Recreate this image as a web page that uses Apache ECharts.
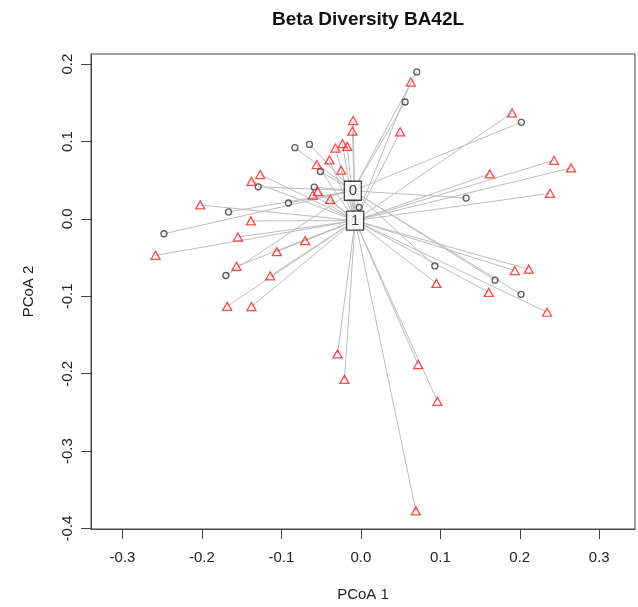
<!DOCTYPE html>
<html>
<head>
<meta charset="utf-8">
<script src="https://cdn.jsdelivr.net/npm/echarts@6/dist/echarts.min.js"></script>
<style>html,body{margin:0;padding:0;background:#fff}#c{width:638px;height:607px}</style>
</head>
<body>
<div id="c"></div>
<script>
// ---- data ----
const groupNames = ['0', '1'];
// group "0" points (PCoA1, PCoA2)
const group0 = [
  [0.0704, 0.1899], [0.0557, 0.1510], [0.2020, 0.1248], [0.1325, 0.0269],
  [-0.0021, 0.0150], [-0.0647, 0.0962], [-0.0830, 0.0920], [-0.0508, 0.0612],
  [-0.1292, 0.0414], [-0.0587, 0.0411], [-0.0911, 0.0205], [-0.1665, 0.0090],
  [-0.2478, -0.0192], [-0.1698, -0.0731], [0.0931, -0.0607], [0.1689, -0.0792],
  [0.2016, -0.0975]
];
// group "1" points
const group1 = [
  [-0.0097, 0.1270], [-0.0106, 0.1133], [-0.0231, 0.0971], [-0.0172, 0.0937],
  [-0.0319, 0.0915], [-0.0395, 0.0761], [-0.0553, 0.0702], [-0.0248, 0.0629],
  [-0.1267, 0.0573], [-0.1376, 0.0484], [-0.0604, 0.0308], [-0.0541, 0.0355],
  [-0.0386, 0.0253], [-0.2021, 0.0180], [-0.1384, -0.0026], [-0.1547, -0.0235],
  [-0.0701, -0.0282], [-0.2584, -0.0471], [-0.1057, -0.0423], [-0.1565, -0.0612],
  [-0.1141, -0.0735], [-0.1682, -0.1129], [-0.1376, -0.1133], [0.0629, 0.1767],
  [0.0494, 0.1125], [0.1903, 0.1369], [0.2431, 0.0757], [0.2645, 0.0658],
  [0.1623, 0.0581], [0.2381, 0.0330], [0.1937, -0.0667], [0.2113, -0.0650],
  [0.0951, -0.0834], [0.1610, -0.0949], [0.2343, -0.1206], [-0.0294, -0.1745],
  [-0.0206, -0.2074], [0.0721, -0.1882], [0.0964, -0.2357], [0.0692, -0.3772]
];
// group centroids (label positions)
const centroids = [[-0.0101, 0.0363], [-0.0072, -0.0022]];
const xTicks = [-0.3, -0.2, -0.1, 0.0, 0.1, 0.2, 0.3];
const xTickLabels = ['-0.3', '-0.2', '-0.1', '0.0', '0.1', '0.2', '0.3'];
const yTicks = [-0.4, -0.3, -0.2, -0.1, 0.0, 0.1, 0.2];
const yTickLabels = ['-0.4', '-0.3', '-0.2', '-0.1', '0.0', '0.1', '0.2'];

// ---- build ----
const FONT = 'Liberation Sans, Arial, Helvetica, sans-serif';
function labelFor(ticks, labels) {
  return function (v) {
    for (let i = 0; i < ticks.length; i++) if (Math.abs(ticks[i] - v) < 1e-9) return labels[i];
    return '';
  };
}
const segs = [];
group0.forEach(p => segs.push({ coords: [centroids[0], p] }));
group1.forEach(p => segs.push({ coords: [centroids[1], p] }));

const chart = echarts.init(document.getElementById('c'), null, { renderer: 'canvas' });
chart.setOption({
  animation: false,
  backgroundColor: '#fff',
  title: {
    text: 'Beta Diversity BA42L',
    left: 363, top: 5, textAlign: 'center',
    textStyle: { fontFamily: FONT, fontWeight: 'bold', fontSize: 19, color: '#111' }
  },
  grid: {
    left: 91, right: 3, top: 54, bottom: 75,
    show: true, borderColor: '#444', borderWidth: 1, backgroundColor: '#fff'
  },
  xAxis: {
    type: 'value', min: -0.3396, max: 0.345,
    name: 'PCoA 1', nameLocation: 'middle', nameGap: 58,
    nameTextStyle: { fontFamily: FONT, fontSize: 15, color: '#222' },
    axisLine: { show: true, onZero: false, lineStyle: { color: '#444', width: 1 } },
    splitLine: { show: false },
    axisTick: { show: true, length: 10, inside: false, customValues: xTicks, lineStyle: { color: '#444', width: 1 } },
    axisLabel: { customValues: xTicks, formatter: labelFor(xTicks, xTickLabels), margin: 21,
      fontFamily: FONT, fontSize: 15, color: '#222' }
  },
  yAxis: {
    type: 'value', min: -0.4006, max: 0.213,
    name: 'PCoA 2', nameLocation: 'middle', nameGap: 55, nameRotate: 90,
    nameTextStyle: { fontFamily: FONT, fontSize: 15, color: '#222' },
    axisLine: { show: true, onZero: false, lineStyle: { color: '#444', width: 1 } },
    splitLine: { show: false },
    axisTick: { show: true, length: 10, inside: false, customValues: yTicks, lineStyle: { color: '#444', width: 1 } },
    axisLabel: { customValues: yTicks, formatter: labelFor(yTicks, yTickLabels), rotate: 90, margin: 16,
      fontFamily: FONT, fontSize: 15, color: '#222' }
  },
  series: [
    {
      type: 'lines', coordinateSystem: 'cartesian2d', silent: true, z: 1,
      lineStyle: { color: '#bdbdbd', width: 1, opacity: 1 },
      data: segs
    },
    {
      name: groupNames[0], type: 'scatter', z: 3, symbol: 'circle', symbolSize: 6,
      itemStyle: { color: 'rgba(255,255,255,0)', borderColor: '#333', borderWidth: 1.3 },
      data: group0
    },
    {
      name: groupNames[1], type: 'scatter', z: 3, symbol: 'triangle', symbolSize: [9, 8],
      itemStyle: { color: 'rgba(255,255,255,0)', borderColor: '#f02020', borderWidth: 1.3 },
      data: group1
    },
    {
      type: 'scatter', z: 5, symbol: 'rect', symbolSize: [17, 19],
      itemStyle: { color: '#fff', borderColor: '#111', borderWidth: 1.3 },
      label: { show: true, position: 'inside', fontFamily: FONT, fontSize: 15, color: '#111',
        formatter: p => groupNames[p.dataIndex] },
      data: centroids
    }
  ]
});
</script>
</body>
</html>
